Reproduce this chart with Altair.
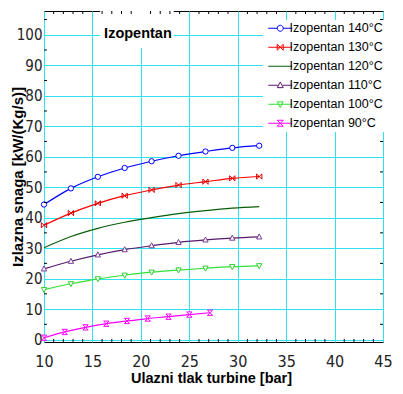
import altair as alt
import pandas as pd

# ---------------- data ----------------
series_names = ["Izopentan 140°C", "Izopentan 130°C", "Izopentan 120°C",
                "Izopentan 110°C", "Izopentan 100°C", "Izopentan 90°C"]
line_colors = ["#0000FF", "#FF0000", "#0A5E0A", "#5A1A6E", "#33E033", "#FF00FF"]

p_main = [10.0, 12.78, 15.56, 18.33, 21.11, 23.89, 26.67, 29.44, 32.22]
p_90 = [10.0, 12.14, 14.29, 16.43, 18.57, 20.71, 22.86, 25.0, 27.14]

w_140 = [44.3, 49.6, 53.4, 56.3, 58.5, 60.3, 61.7, 62.9, 63.6]
w_130 = [37.5, 41.5, 44.7, 47.2, 49.1, 50.7, 51.8, 52.9, 53.5]
w_120 = [30.1, 33.8, 36.5, 38.5, 40.0, 41.3, 42.3, 43.1, 43.6]
w_110 = [23.2, 25.7, 27.8, 29.5, 30.8, 31.9, 32.7, 33.3, 33.7]
w_100 = [16.4, 18.3, 19.9, 21.1, 22.1, 22.8, 23.4, 23.9, 24.2]
w_90 = [0.6, 2.5, 4.0, 5.2, 6.1, 6.9, 7.5, 8.2, 8.8]

x_ticks = [10, 15, 20, 25, 30, 35, 40, 45]
y_ticks = [0, 10, 20, 30, 40, 50, 60, 70, 80, 90, 100]
x_minor = [11, 12, 13, 14, 16, 17, 18, 19, 21, 22, 23, 24, 26, 27, 28, 29,
           31, 32, 33, 34, 36, 37, 38, 39, 41, 42, 43, 44]
y_minor = [5, 15, 25, 35, 45, 55, 65, 75, 85, 95, 105]

title_text = ["Izopentan"]
title_p = [19.7]
title_w = [100.3]
title_box_p = [15.8]
title_box_p2 = [23.4]
title_box_w = [95.7]
title_box_w2 = [107.8]

# ---------------- styles ----------------
W, H = 339, 331
GRID = "#2EE3EE"
NARROW = "Liberation Sans Narrow, Arial Narrow, DejaVu Sans Condensed, sans-serif"
SANS = "Liberation Sans, Arial, sans-serif"
X_TITLE = "Ulazni tlak turbine [bar]"
Y_TITLE = "Izlazna snaga [kW/(Kg/s)]"

marker_specs = {
    "Izopentan 140°C": ("circle", "#0000FF"),
    "Izopentan 130°C": ("M-1,-1L1,1M1,-1L-1,1M-1,-1L-1,1M1,-1L1,1", "#E00000"),
    "Izopentan 110°C": ("M0,-1.1L1,0.8L-1,0.8Z", "#7A3A96"),
    "Izopentan 100°C": ("M-1,-0.8L1,-0.8L0,1.1Z", "#33CC33"),
    "Izopentan 90°C": ("M-1,-1L1,-1L-1,1L1,1Z", "#FF00FF"),
}
legend_shapes = [
    "M-4,0L-1,0M1,0L4,0M-1,0A1,1 0 1,0 1,0A1,1 0 1,0 -1,0",
    "M-4,0L4,0M-1,-1L1,1M1,-1L-1,1M-1,-1L-1,1M1,-1L1,1",
    "M-4,0L4,0",
    "M-4,0L-0.8,0M0.8,0L4,0M0,-1.1L1,0.8L-1,0.8Z",
    "M-4,0L4,0M-1,-0.8L1,-0.8L0,1.1Z",
    "M-4,0L4,0M-1,-1L1,-1L-1,1L1,1Z",
]

rows = []
for name, ps, ws in zip(series_names,
                        [p_main] * 5 + [p_90],
                        [w_140, w_130, w_120, w_110, w_100, w_90]):
    for p, w in zip(ps, ws):
        rows.append({"s": name, "p": p, "w": w})
df = pd.DataFrame(rows)

xs = alt.Scale(domain=[10, 45], nice=False, zero=False)
ys = alt.Scale(domain=[-0.8, 107.8], nice=False, zero=False)
cs = alt.Scale(domain=series_names, range=line_colors)

x_axis = alt.Axis(values=x_ticks, grid=True, gridColor=GRID, gridWidth=1,
                  ticks=False, domain=False, labelFont=NARROW, labelFontSize=16,
                  labelColor="#222222", labelPadding=11, labelFlush=False,
                  titleFont=SANS, titleFontWeight="bold", titleFontSize=14.5,
                  titleColor="black", titleX=167, titleY=40.5,
                  titleBaseline="alphabetic")
y_axis = alt.Axis(values=y_ticks, grid=True, gridColor=GRID, gridWidth=1,
                  ticks=False, domain=False, labelFont=NARROW, labelFontSize=15,
                  labelColor="#222222", labelPadding=2, labelFlush=False,
                  titleFont=SANS, titleFontWeight="bold", titleFontSize=15,
                  titleColor="black", titleX=-22, titleY=H / 2, titleAngle=270,
                  titleAlign="center", titleBaseline="alphabetic")


def X(field):
    return alt.X(field, scale=xs, axis=x_axis, title=X_TITLE)


def Y(field):
    return alt.Y(field, scale=ys, axis=y_axis, title=Y_TITLE)


legend = alt.Legend(title=None, orient="none", legendX=219, legendY=9,
                    fillColor="white", padding=2, rowPadding=6,
                    symbolSize=36, symbolStrokeWidth=1, symbolOpacity=1,
                    symbolOffset=9, labelOffset=3, labelFont=SANS,
                    labelFontSize=12.5, labelColor="black")

lines = alt.Chart(df).mark_line(interpolate="monotone", strokeWidth=1.2).encode(
    x=X("p:Q"), y=Y("w:Q"),
    color=alt.Color("s:N", scale=cs, legend=legend),
)

marker_layers = []
for name, (shape, col) in marker_specs.items():
    marker_layers.append(
        alt.Chart(df).transform_filter(alt.datum.s == name)
        .mark_point(shape=shape, filled=True, fill="white", stroke=col,
                    strokeWidth=1, size=28, opacity=1)
        .encode(x=X("p:Q"), y=Y("w:Q"))
    )

legend_layer = alt.Chart(df).mark_point(filled=False, opacity=0).encode(
    x=X("p:Q"), y=Y("w:Q"),
    color=alt.Color("s:N", scale=cs, legend=legend),
    shape=alt.Shape("s:N", scale=alt.Scale(domain=series_names, range=legend_shapes),
                    legend=legend),
)

tdf = pd.DataFrame({"tp": title_text, "p": title_p, "w": title_w,
                    "p1": title_box_p, "p2": title_box_p2,
                    "w1": title_box_w, "w2": title_box_w2})
title_box = alt.Chart(tdf).mark_rect(fill="white").encode(
    x=X("p1:Q"), x2="p2:Q", y=Y("w1:Q"), y2="w2:Q")
title_lbl = alt.Chart(tdf).mark_text(font=SANS, fontSize=14.5, fontWeight="bold",
                                      color="black", baseline="middle").encode(
    x=X("p:Q"), y=Y("w:Q"), text="tp:N")

xm = pd.DataFrame({"p": x_minor})
ym = pd.DataFrame({"w": y_minor})
bottom_ticks = alt.Chart(xm).mark_rule(color="black", strokeWidth=1).encode(
    x=X("p:Q"), y=alt.value(H), y2=alt.value(H - 3))
top_ticks = alt.Chart(xm).mark_rule(color="black", strokeWidth=1).encode(
    x=X("p:Q"), y=alt.value(0), y2=alt.value(3))
left_ticks = alt.Chart(ym).mark_rule(color="black", strokeWidth=1).encode(
    y=Y("w:Q"), x=alt.value(0), x2=alt.value(3))
right_ticks = alt.Chart(ym).mark_rule(color="black", strokeWidth=1).encode(
    y=Y("w:Q"), x=alt.value(W), x2=alt.value(W - 3))

chart = alt.layer(
    lines, title_box, *marker_layers, legend_layer, title_lbl,
    bottom_ticks, top_ticks, left_ticks, right_ticks,
).properties(
    width=W, height=H,
    autosize=alt.AutoSizeParams(type="none"),
    padding={"left": 36, "top": 3, "right": 12, "bottom": 44},
    background="white",
).configure_view(stroke="black", strokeWidth=1)

chart.save("out.html", embed_options={"renderer": "svg", "actions": False})
